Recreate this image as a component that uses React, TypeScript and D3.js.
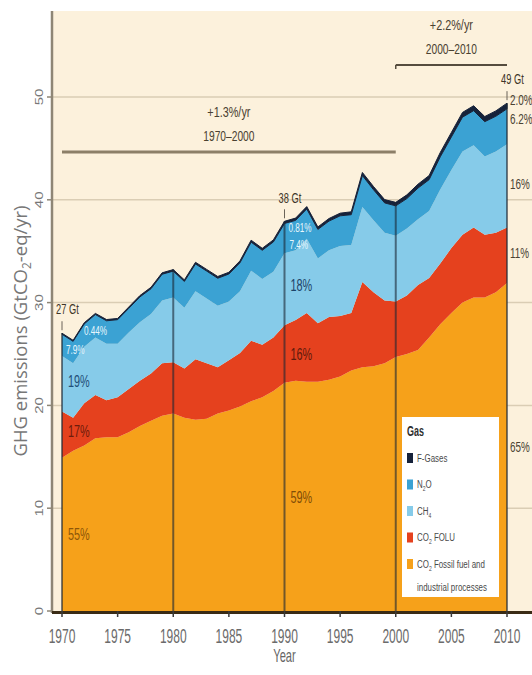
import React from "react";
import * as d3 from "d3";

// ---------- DATA ----------
const years = [
  1970, 1971, 1972, 1973, 1974, 1975, 1976, 1977, 1978, 1979,
  1980, 1981, 1982, 1983, 1984, 1985, 1986, 1987, 1988, 1989,
  1990, 1991, 1992, 1993, 1994, 1995, 1996, 1997, 1998, 1999,
  2000, 2001, 2002, 2003, 2004, 2005, 2006, 2007, 2008, 2009, 2010,
];
const co2FossilIndustry = [
  14.9, 15.6, 16.1, 16.8, 16.9, 16.9, 17.4, 18.0, 18.5, 19.0,
  19.2, 18.8, 18.6, 18.7, 19.2, 19.5, 19.9, 20.4, 20.8, 21.4,
  22.2, 22.4, 22.3, 22.3, 22.5, 22.8, 23.4, 23.7, 23.8, 24.1,
  24.7, 25.0, 25.4, 26.6, 27.9, 29.0, 30.0, 30.5, 30.5, 31.0, 31.9,
];
const co2Folu = [
  4.5, 3.2, 4.1, 4.2, 3.6, 3.9, 4.2, 4.4, 4.6, 5.1,
  5.0, 4.8, 5.9, 5.4, 4.5, 4.9, 5.2, 5.9, 5.1, 5.2,
  5.6, 5.9, 6.7, 5.7, 6.1, 5.9, 5.6, 8.3, 7.2, 6.1,
  5.4, 5.7, 6.3, 5.8, 5.9, 6.3, 6.6, 6.8, 6.1, 5.8, 5.4,
];
const ch4 = [
  5.4, 5.3, 5.5, 5.6, 5.5, 5.2, 5.5, 5.7, 5.8, 6.1,
  6.3, 5.9, 6.6, 6.3, 6.0, 5.7, 6.0, 6.8, 6.4, 6.4,
  7.0, 6.8, 7.2, 6.3, 6.5, 6.8, 6.6, 7.3, 7.0, 6.6,
  6.4, 6.5, 6.4, 6.5, 7.2, 7.6, 8.1, 8.0, 7.6, 7.9, 8.1,
];
const n2o = [
  2.12, 2.13, 2.23, 2.24, 2.23, 2.34, 2.34, 2.45, 2.45, 2.56,
  2.56, 2.56, 2.66, 2.67, 2.67, 2.68, 2.78, 2.78, 2.79, 2.9,
  2.9, 2.9, 2.91, 2.82, 2.83, 2.94, 2.95, 3.06, 2.98, 2.9,
  2.91, 2.92, 3.04, 3.06, 3.18, 3.21, 3.34, 3.37, 3.4, 3.43, 3.45,
];
const fGases = [
  0.1, 0.1, 0.11, 0.11, 0.12, 0.12, 0.13, 0.13, 0.14, 0.14,
  0.15, 0.15, 0.16, 0.16, 0.17, 0.17, 0.18, 0.19, 0.19, 0.2,
  0.21, 0.22, 0.23, 0.24, 0.25, 0.26, 0.28, 0.3, 0.31, 0.32,
  0.34, 0.36, 0.38, 0.4, 0.42, 0.44, 0.46, 0.48, 0.5, 0.52, 0.55,
];

const seriesKeys = ["ffi", "folu", "ch4", "n2o", "fgas"];
const yTicks = [0, 10, 20, 30, 40, 50];
const xTicks = [1970, 1975, 1980, 1985, 1990, 1995, 2000, 2005, 2010];
const markerYears = [1970, 1980, 1990, 2000, 2010];
const totalLabelYears = [1970, 1990, 2010];
const totalLabels = ["27 Gt", "38 Gt", "49 Gt"];
const pct1970 = ["55%", "17%", "19%", "7.9%", "0.44%"];
const pct1990 = ["59%", "16%", "18%", "7.4%", "0.81%"];
const pct2010 = ["65%", "11%", "16%", "6.2%", "2.0%"];
const rates = [
  { from: 1970, to: 2000, rate: "+1.3%/yr", span: "1970–2000" },
  { from: 2000, to: 2010, rate: "+2.2%/yr", span: "2000–2010" },
];

// ---------- STYLE ----------
const colors: Record<string, string> = {
  ffi: "#F6A11A",
  folu: "#E5411E",
  ch4: "#86CBE9",
  n2o: "#3BA2D3",
  fgas: "#16223A",
};
const FONT = "'Liberation Sans', Arial, sans-serif";

function CText(props: any) {
  const { x, y, sx = 0.65, size = 14, fill = "#333", anchor = "start", weight = "normal", dy = "0.35em", children } = props;
  return (
    <text
      transform={`translate(${x},${y}) scale(${sx},1)`}
      fontSize={size}
      fill={fill}
      textAnchor={anchor}
      fontWeight={weight}
      fontFamily={FONT}
      dy={dy}
    >
      {children}
    </text>
  );
}

export default function App() {
  const W = 532;
  const H = 675;
  const x = d3.scaleLinear().domain([1970, 2010]).range([62, 507]);
  const y = d3.scaleLinear().domain([0, 50]).range([611, 97]);

  const table = years.map((yr, i) => ({
    year: yr,
    ffi: co2FossilIndustry[i],
    folu: co2Folu[i],
    ch4: ch4[i],
    n2o: n2o[i],
    fgas: fGases[i],
  }));
  const stacked = d3.stack<any>().keys(seriesKeys)(table);
  const area = d3
    .area<any>()
    .x((d) => x(d.data.year))
    .y0((d) => y(d[0]))
    .y1((d) => y(d[1]));

  const idx = (yr: number) => years.indexOf(yr);
  const total = (yr: number) => stacked[4][idx(yr)][1];
  const mid = (k: number, yr: number) => (stacked[k][idx(yr)][0] + stacked[k][idx(yr)][1]) / 2;

  const darkLab = ["#8d5609", "#6e1c0c", "#1f4f78", "#e8f6fc", "#e8f6fc"];
  const darkLab90 = ["#7f4d08", "#5e1a0c", "#1d4468", "#e8f6fc", "#e8f6fc"];
  const off1970 = [
    { dx: 6, dy: 0 },
    { dx: 6, dy: -3 },
    { dx: 6, dy: -2 },
    { dx: 4, dy: 5 },
    { dx: 22, dy: -3 },
  ];
  const off1990 = [
    { dx: 6, dy: 0 },
    { dx: 6, dy: 0 },
    { dx: 6, dy: -4 },
    { dx: 5, dy: 6 },
    { dx: 4, dy: 5 },
  ];
  const off2010 = [
    { dx: 3, dy: 0 },
    { dx: 3, dy: -3 },
    { dx: 3, dy: -2 },
    { dx: 3, dy: -8 },
    { dx: 3, dy: -6 },
  ];

  const legendItems = [
    { key: "fgas", lines: [["F-Gases", ""]] },
    { key: "n2o", lines: [["N", "2", "O"]] },
    { key: "ch4", lines: [["CH", "4", ""]] },
    { key: "folu", lines: [["CO", "2", " FOLU"]] },
    { key: "ffi", lines: [["CO", "2", " Fossil fuel and"], ["industrial processes", ""]] },
  ];

  return (
    <div style={{ position: "absolute", left: 0, top: 0, width: W, height: H }}>
      <svg width={W} height={H} viewBox={`0 0 ${W} ${H}`} style={{ display: "block", background: "#ffffff" }}>
        {/* plot background */}
        <rect x={52} y={11} width={W - 52} height={611 - 11} fill="#FCF1DC" />
        {/* gridlines */}
        {yTicks.filter((v) => v > 0).map((v) => (
          <line key={"g" + v} x1={52} x2={W} y1={y(v)} y2={y(v)} stroke="#DACDB4" strokeWidth={1.5} />
        ))}

        {/* stacked areas */}
        {stacked.map((s, i) => (
          <path
            key={seriesKeys[i]}
            d={area(s) || ""}
            fill={colors[seriesKeys[i]]}
            stroke={seriesKeys[i] === "fgas" ? colors.fgas : "none"}
            strokeWidth={seriesKeys[i] === "fgas" ? 1 : 0}
          />
        ))}

        {/* decade marker lines */}
        {markerYears.map((yr) => (
          <line
            key={"m" + yr}
            x1={x(yr)}
            x2={x(yr)}
            y1={y(total(yr))}
            y2={611}
            stroke="#1b2633"
            strokeOpacity={0.6}
            strokeWidth={2}
          />
        ))}
        {/* total labels with small ticks */}
        {totalLabelYears.map((yr, i) => (
          <g key={"t" + yr}>
            <line x1={x(yr)} x2={x(yr)} y1={y(total(yr)) - 12} y2={y(total(yr)) - 3} stroke="#6a6358" strokeWidth={1} />
            <CText x={x(yr) - 6} y={y(total(yr)) - 24} size={15} sx={0.62} fill="#3d3528">
              {totalLabels[i]}
            </CText>
          </g>
        ))}

        {/* percentage labels */}
        {pct1970.map((t, k) => (
          <CText key={"p70" + k} x={x(1970) + off1970[k].dx} y={y(mid(k, 1970)) + off1970[k].dy} size={k >= 3 ? 12 : 16} sx={0.68} fill={darkLab[k]}>
            {t}
          </CText>
        ))}
        {pct1990.map((t, k) => (
          <CText key={"p90" + k} x={x(1990) + off1990[k].dx} y={y(mid(k, 1990)) + off1990[k].dy} size={k >= 3 ? 12 : 16} sx={0.68} fill={darkLab90[k]}>
            {t}
          </CText>
        ))}
        {pct2010.map((t, k) => (
          <CText key={"p10" + k} x={x(2010) + off2010[k].dx} y={y(mid(k, 2010)) + off2010[k].dy} size={15} sx={0.66} fill="#4a4233">
            {t}
          </CText>
        ))}

        {/* growth rate brackets */}
        {rates.map((r, i) => {
          const cx = (x(r.from) + x(r.to)) / 2;
          const ly = i === 0 ? 152 : 65;
          return (
            <g key={"r" + i}>
              <line
                x1={x(r.from)}
                x2={x(r.to)}
                y1={ly}
                y2={ly}
                stroke={i === 0 ? "#8c7f68" : "#554c3e"}
                strokeWidth={i === 0 ? 3 : 2}
              />
              {i === 1 && <line x1={x(r.from)} x2={x(r.from)} y1={ly} y2={ly + 4} stroke="#554c3e" strokeWidth={1.5} />}
              <CText x={cx} y={ly - 40} size={15.5} sx={0.7} anchor="middle" fill="#4a4131">
                {r.rate}
              </CText>
              <CText x={cx} y={ly - 16} size={15.5} sx={0.66} anchor="middle" fill="#4a4131">
                {r.span}
              </CText>
            </g>
          );
        })}

        {/* legend */}
        <g>
          <rect x={402} y={417} width={97} height={180} fill="#ffffff" />
          <CText x={407} y={431} size={15} sx={0.6} fill="#2e2e2e" weight="bold">
            Gas
          </CText>
          {legendItems.map((it, i) => {
            const cy = 458 + i * 26.5;
            return (
              <g key={"l" + it.key}>
                <rect x={407} y={cy - 5} width={6} height={10} fill={colors[it.key]} />
                {it.lines.map((ln, j) => (
                  <text
                    key={j}
                    transform={`translate(417,${cy + j * 23}) scale(0.72,1)`}
                    fontSize={11}
                    fill="#4a4a4a"
                    fontFamily={FONT}
                    dy="0.35em"
                  >
                    {ln[0]}
                    {ln[1] && (
                      <tspan fontSize={7} dy={3}>
                        {ln[1]}
                      </tspan>
                    )}
                    {ln[2] !== undefined && ln[2] !== "" && <tspan dy={-3}>{ln[2]}</tspan>}
                  </text>
                ))}
              </g>
            );
          })}
        </g>

        {/* y axis */}
        <line x1={52} x2={52} y1={11} y2={613} stroke="#8e8676" strokeWidth={2.5} />
        {yTicks.map((v) => (
          <g key={"yt" + v}>
            <line x1={47} x2={52} y1={y(v)} y2={y(v)} stroke="#8e8676" strokeWidth={1.5} />
            <text
              transform={`translate(39,${y(v)}) rotate(-90) scale(1,0.75)`}
              fontSize={15}
              fill="#777"
              textAnchor="middle"
              fontFamily={FONT}
              dy="0.35em"
            >
              {v}
            </text>
          </g>
        ))}
        <text
          transform={`translate(21,331) rotate(-90)`}
          fontSize={18.5}
          fill="#777"
          textAnchor="middle"
          fontFamily="'Open Sans', 'Noto Sans', sans-serif"
          dy="0.35em"
        >
          GHG emissions (GtCO
          <tspan fontSize={12} dy={4}>
            2
          </tspan>
          <tspan dy={-4}>-eq/yr)</tspan>
        </text>

        {/* x axis */}
        <line x1={52} x2={W} y1={612.5} y2={612.5} stroke="#3a2b15" strokeWidth={3} />
        {xTicks.map((t) => (
          <g key={"xt" + t}>
            <line x1={x(t)} x2={x(t)} y1={611} y2={617} stroke="#3a3a3a" strokeWidth={1.5} />
            <CText x={x(t)} y={636} size={20} sx={0.6} anchor="middle" fill="#6b6b6b">
              {t}
            </CText>
          </g>
        ))}
        <CText x={x(1990)} y={656} size={18} sx={0.62} anchor="middle" fill="#666">
          Year
        </CText>
      </svg>
    </div>
  );
}
